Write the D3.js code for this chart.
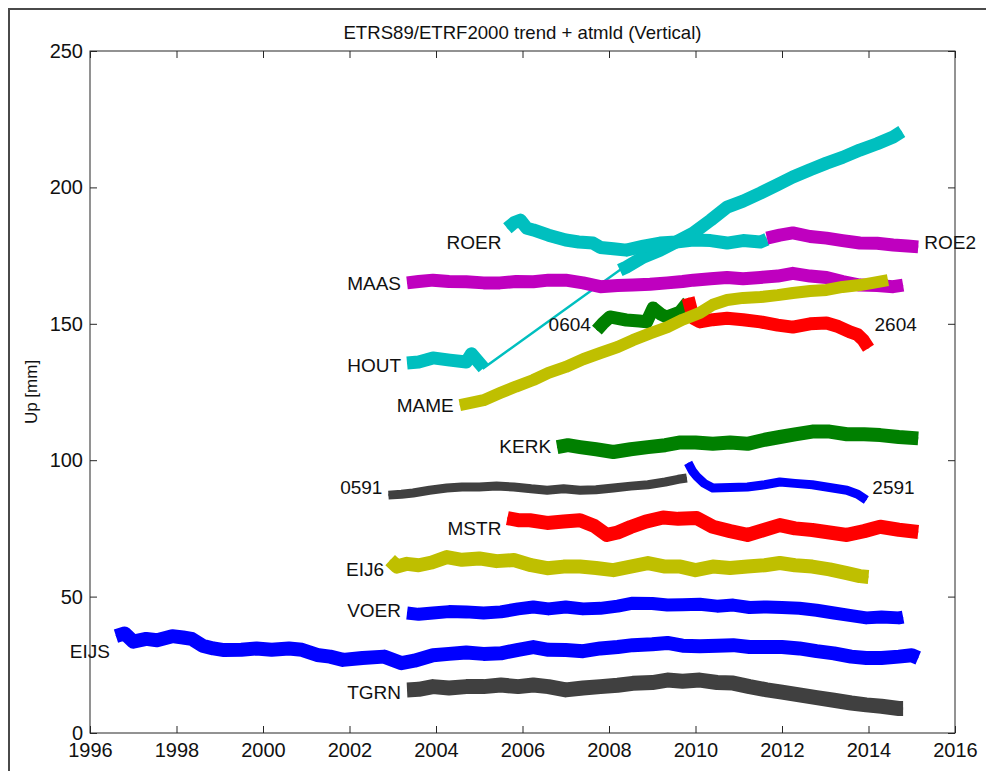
<!DOCTYPE html>
<html>
<head>
<meta charset="utf-8">
<script src="https://cdn.jsdelivr.net/npm/d3@7"></script>
<style>
  body { margin: 0; background: #fff; }
  svg text { font-family: "Liberation Sans", Arial, Helvetica, sans-serif; fill: #111; }
  .frame { fill: none; stroke: #262626; stroke-width: 1; }
  .axis line { stroke: #262626; }
  .axis path { display: none; }
</style>
</head>
<body>
<div id="chart"></div>
<script>

// tick values
var xTicks = [1996, 1998, 2000, 2002, 2004, 2006, 2008, 2010, 2012, 2014, 2016];
var yTicks = [0, 50, 100, 150, 200, 250];

// station series, [year, up (mm)]
var HOUT = [[2003.33,135.6],[2003.6,136],[2003.93,137.5],[2004.32,136.7],[2004.7,136],[2004.82,139],[2005.1,133.8],
  [2008.25,169.7],[2008.4,170.8],[2008.8,174.5],[2009.18,177],[2009.55,180],[2009.95,183.3],[2010.35,188],[2010.73,192.8],
  [2011.1,195],[2011.5,197.9],[2011.9,201],[2012.25,203.8],[2012.65,206.5],[2013.03,208.9],[2013.4,211],[2013.8,213.7],
  [2014.2,216],[2014.57,218.5],[2014.77,220.5]];
var ROER = [[2005.65,185],[2005.8,187],[2005.95,188],[2006.1,185],[2006.25,184.4],[2006.6,182.5],[2007.0,180.7],[2007.3,180],
  [2007.63,179.6],[2007.8,178],[2008.1,177.5],[2008.4,177],[2008.8,178.5],[2009.18,179.6],[2009.55,180],[2009.95,180.7],
  [2010.35,180.5],[2010.73,179.6],[2011.1,180.5],[2011.5,180],[2011.65,181]];
var MAAS = [[2003.33,165],[2003.6,165.5],[2003.93,166],[2004.3,165.5],[2004.7,165.4],[2005.1,165],[2005.48,165],[2005.85,165.5],
  [2006.25,165.4],[2006.6,166],[2007.0,166],[2007.4,165],[2007.8,163.6],[2008.2,164],[2008.55,164.2],[2008.95,164.5],
  [2009.35,165],[2009.7,165.5],[2009.95,166],[2010.35,166.5],[2010.73,167],[2011.1,166.5],[2011.5,167],[2011.9,167.5],
  [2012.25,168.5],[2012.65,167.5],[2013.03,167],[2013.4,165.5],[2013.8,164.2],[2014.2,164],[2014.57,163.6],[2014.8,164.2]];
var ROE2 = [[2011.65,181.4],[2011.95,182.5],[2012.25,183.3],[2012.65,182],[2013.03,181.4],[2013.4,180.5],[2013.8,179.6],
  [2014.2,179.5],[2014.57,178.9],[2014.9,178.5],[2015.15,178.2]];
var S0604 = [[2007.72,147.7],[2007.85,150],[2008.02,152.5],[2008.4,151.4],[2008.7,151],[2008.87,150.7],[2009.02,155.8],
  [2009.2,153.5],[2009.33,152.5],[2009.64,154.3],[2009.83,158]];
var S2604 = [[2009.83,159.5],[2009.95,152],[2010.1,150.7],[2010.4,151.5],[2010.73,152],[2011.1,151.5],[2011.5,150.7],
  [2011.9,149.5],[2012.25,148.8],[2012.65,150],[2013.03,150.3],[2013.3,149],[2013.57,147],[2013.75,146],[2013.88,144],[2014.0,141]];
var MAME = [[2004.55,120.2],[2004.8,121],[2005.1,122],[2005.48,124.6],[2005.85,127],[2006.25,129.4],[2006.6,132],[2007.0,134.2],
  [2007.4,137],[2007.8,139.3],[2008.2,141.5],[2008.55,144],[2008.95,146.5],[2009.35,148.8],[2009.7,151.5],[2010.1,154],
  [2010.4,157],[2010.73,158.7],[2011.1,159.5],[2011.5,159.8],[2011.9,160.5],[2012.25,161.3],[2012.65,162],[2013.03,162.4],
  [2013.4,163.5],[2013.8,164.2],[2014.1,165],[2014.45,166]];
var KERK = [[2006.8,104.8],[2007.05,105.5],[2007.33,104.8],[2007.7,104],[2008.1,103],[2008.5,104],[2008.9,104.8],[2009.3,105.5],
  [2009.65,106.5],[2010.0,106.5],[2010.4,106],[2010.8,106.5],[2011.2,106],[2011.6,107.5],[2011.95,108.5],[2012.3,109.5],
  [2012.7,110.5],[2013.1,110.5],[2013.5,109.5],[2013.9,109.5],[2014.27,109.2],[2014.7,108.5],[2015.15,108]];
var S0591 = [[2002.9,87.2],[2003.2,87.5],[2003.47,88],[2003.85,89],[2004.25,89.8],[2004.6,90.2],[2005.0,90.2],[2005.4,90.5],
  [2005.8,90.2],[2006.2,89.5],[2006.57,89],[2006.95,89.5],[2007.33,89],[2007.7,89.2],[2008.1,89.8],[2008.5,90.5],[2008.9,91],
  [2009.3,92],[2009.6,93],[2009.8,93.5]];
var S2591 = [[2009.83,99],[2009.93,96],[2010.03,94],[2010.2,91.5],[2010.4,89.8],[2010.8,90],[2011.2,90.2],[2011.6,91],
  [2011.95,92],[2012.3,91.5],[2012.7,91],[2013.1,90],[2013.5,89],[2013.75,87.5],[2013.95,85.4]];
var MSTR = [[2005.65,78.8],[2005.9,78],[2006.17,78],[2006.57,77],[2006.95,77.5],[2007.33,78],[2007.65,76],[2007.95,72.6],
  [2008.2,73.5],[2008.5,75.5],[2008.85,77.5],[2009.25,79],[2009.6,78.5],[2010.03,78.8],[2010.4,75.6],[2010.8,74],[2011.2,72.6],
  [2011.6,74.5],[2011.95,76.2],[2012.3,75],[2012.7,74.4],[2013.1,73.5],[2013.5,72.6],[2013.9,74],[2014.27,75.6],[2014.7,74.5],
  [2015.15,73.7]];
var EIJ6 = [[2002.94,63.4],[2003.1,61],[2003.33,62],[2003.6,61.5],[2003.9,62.5],[2004.25,64.5],[2004.6,63.5],[2005.0,64],
  [2005.4,63],[2005.8,63.4],[2006.2,61.5],[2006.57,60.4],[2006.95,61],[2007.33,61],[2007.7,60.5],[2008.1,59.7],[2008.5,61],
  [2008.9,62.3],[2009.3,61],[2009.65,61],[2010.0,59.7],[2010.4,61],[2010.8,60.5],[2011.2,61],[2011.6,61.5],[2011.95,62.3],
  [2012.3,61.5],[2012.7,61],[2013.1,60],[2013.5,58.6],[2013.8,57.5],[2014.0,57.2]];
var VOER = [[2003.33,44],[2003.6,43.5],[2003.93,44],[2004.3,44.5],[2004.7,44.4],[2005.1,44],[2005.5,44.4],[2005.9,45.5],
  [2006.25,46.2],[2006.6,45.5],[2007.0,46.2],[2007.4,45.5],[2007.8,45.7],[2008.2,46.5],[2008.55,47.6],[2009.0,47.5],
  [2009.35,46.9],[2009.7,47],[2010.1,47.2],[2010.5,46.5],[2010.87,46.9],[2011.25,46],[2011.65,46.2],[2012.0,46],[2012.4,45.7],
  [2012.8,45],[2013.2,44],[2013.6,43],[2013.95,42.2],[2014.3,42.5],[2014.7,42.2],[2014.8,42.5]];
var EIJS = [[1996.6,35.5],[1996.8,36.5],[1997.0,33.5],[1997.3,34.5],[1997.55,34],[1997.9,35.5],[1998.15,35],[1998.35,34.5],
  [1998.6,32],[1998.85,31],[1999.1,30.4],[1999.5,30.5],[1999.85,31],[2000.2,30.5],[2000.6,31],[2000.9,30.5],[2001.25,28.6],
  [2001.55,28],[2001.85,26.8],[2002.3,27.5],[2002.8,28],[2003.2,25.6],[2003.5,26.5],[2003.93,28.5],[2004.3,29],[2004.7,29.5],
  [2005.1,29],[2005.5,29.2],[2005.9,30.5],[2006.25,31.5],[2006.6,30.5],[2007.0,30.4],[2007.4,30],[2007.8,31],[2008.2,31.5],
  [2008.55,32.2],[2009.0,32.5],[2009.35,33],[2009.7,32],[2010.1,31.8],[2010.5,32],[2010.87,32.2],[2011.25,31.5],[2011.65,31.5],
  [2012.0,31.5],[2012.4,31],[2012.8,30],[2013.2,29.2],[2013.6,28],[2013.95,27.5],[2014.3,27.5],[2014.7,28],[2015.0,28.5],
  [2015.15,27.5]];
var TGRN = [[2003.33,15.8],[2003.6,16],[2003.93,17],[2004.3,16.5],[2004.7,17],[2005.1,17],[2005.5,17.6],[2005.9,17],
  [2006.25,17.6],[2006.6,17],[2007.0,15.8],[2007.4,16.5],[2007.8,17],[2008.2,17.5],[2008.55,18.2],[2009.0,18.5],[2009.35,19.4],
  [2009.7,19],[2010.1,19.4],[2010.5,18.5],[2010.87,18.3],[2011.25,17],[2011.65,15.8],[2012.0,15],[2012.4,14],[2012.8,13],
  [2013.2,12],[2013.6,11],[2013.95,10.3],[2014.3,9.8],[2014.7,9],[2014.8,9]];

// station names and the level (mm) their label sits at
var labelNames = ["ROER", "MAAS", "0604", "HOUT", "MAME", "KERK", "0591", "MSTR", "EIJ6", "VOER", "EIJS", "TGRN", "ROE2", "2604", "2591"];
var labelUp    = [180, 165, 150, 135, 120, 105, 90, 75, 60, 45, 30, 15, 180, 150, 90];

window.onload = function(){
  makeChart()
};

function makeChart(){
  var outerWidth = 986,
      outerHeight = 771,
      margin = {top: 51, right: 31, bottom: 38, left: 90},
      width = outerWidth - margin.left - margin.right,
      height = outerHeight - margin.top - margin.bottom;

  var cyan = "#00bfbf", magenta = "#bf00bf", olive = "#bfbf00", green = "#008000",
      red = "#ff0000", blue = "#0000ff", grey = "#404040";

  // drawing order, later ones end up on top
  var series = [
    {data: HOUT, color: cyan, w: 13, label: "HOUT", side: "start"},
    {data: ROER, color: cyan, w: 13, label: "ROER", side: "start"},
    {data: MAAS, color: magenta, w: 13, label: "MAAS", side: "start"},
    {data: ROE2, color: magenta, w: 13, label: "ROE2", side: "end"},
    {data: S0604, color: green, w: 13, label: "0604", side: "start"},
    {data: S2604, color: red, w: 13, label: "2604", side: "end"},
    {data: MAME, color: olive, w: 12, label: "MAME", side: "start"},
    {data: KERK, color: green, w: 14, label: "KERK", side: "start"},
    {data: S0591, color: grey, w: 9, label: "0591", side: "start"},
    {data: S2591, color: blue, w: 9, label: "2591", side: "end"},
    {data: MSTR, color: red, w: 14, label: "MSTR", side: "start"},
    {data: EIJ6, color: olive, w: 14, label: "EIJ6", side: "start"},
    {data: VOER, color: blue, w: 13, label: "VOER", side: "start"},
    {data: EIJS, color: blue, w: 14, label: "EIJS", side: "start"},
    {data: TGRN, color: grey, w: 15, label: "TGRN", side: "start"}
  ];

  var x = d3.scaleLinear()
      .domain([1996, 2016])
      .range([0, width]);

  var y = d3.scaleLinear()
      .domain([0, 250])
      .range([height, 0]);

  var svg = d3.select("#chart").append("svg")
      .attr("width", outerWidth)
      .attr("height", outerHeight);

  // figure border (only left and top show in the crop)
  svg.append("path")
      .attr("d", "M9," + outerHeight + "V9H" + outerWidth)
      .attr("fill", "none")
      .attr("stroke", "#4a4a4a")
      .attr("stroke-width", 2);

  svg.append("text")
      .attr("x", margin.left + width / 2)
      .attr("y", 39)
      .attr("text-anchor", "middle")
      .style("font-size", "18.6px")
      .text("ETRS89/ETRF2000 trend + atmld (Vertical)");

  svg.append("text")
      .attr("transform", "translate(37," + (margin.top + height / 2) + ") rotate(-90)")
      .attr("text-anchor", "middle")
      .style("font-size", "17px")
      .text("Up [mm]");

  var g = svg.append("g")
      .attr("transform", "translate(" + margin.left + "," + margin.top + ")");

  var line = d3.line()
      .x(function(d){ return x(d[0]); })
      .y(function(d){ return y(d[1]); });

  // split a record where it has a long data gap, the gap is only a thin line
  function pieces(data){
    var out = [], cur = [data[0]];
    for (var i = 1; i < data.length; i++){
      if (data[i][0] - data[i-1][0] > 1){ out.push(cur); cur = []; }
      cur.push(data[i]);
    }
    out.push(cur);
    return out;
  }

  series.forEach(function(s){
    var sg = g.append("g");
    sg.append("path")
        .attr("d", line(s.data))
        .attr("fill", "none")
        .attr("stroke", s.color)
        .attr("stroke-width", 2.5);
    pieces(s.data).forEach(function(p){
      sg.append("path")
          .attr("d", line(p))
          .attr("fill", "none")
          .attr("stroke", s.color)
          .attr("stroke-width", s.w)
          .attr("stroke-linejoin", "round");
    });
  });

  // station labels
  series.forEach(function(s){
    var i = labelNames.indexOf(s.label);
    var first = s.data[0], last = s.data[s.data.length - 1];
    g.append("text")
        .attr("x", s.side == "start" ? x(first[0]) - 6 : x(last[0]) + 6)
        .attr("y", y(labelUp[i]))
        .attr("dy", "0.36em")
        .attr("text-anchor", s.side == "start" ? "end" : "start")
        .style("font-size", "19px")
        .text(s.label);
  });

  // axes with inward ticks, MATLAB style box
  g.append("rect")
      .attr("class", "frame")
      .attr("width", width)
      .attr("height", height);

  var xAxis = g.append("g")
      .attr("class", "x axis")
      .attr("transform", "translate(0," + height + ")")
      .call(d3.axisBottom(x).tickValues(xTicks).tickFormat(d3.format("d"))
        .tickSizeInner(-7).tickSizeOuter(0).tickPadding(10));
  xAxis.selectAll("text").style("font-size", "20px").attr("fill", "#111");

  g.append("g")
      .attr("class", "axis")
      .call(d3.axisTop(x).tickValues(xTicks).tickSizeInner(-7).tickSizeOuter(0).tickFormat(""));

  var yAxis = g.append("g")
      .attr("class", "y axis")
      .call(d3.axisLeft(y).tickValues(yTicks).tickSizeInner(-7).tickSizeOuter(0).tickPadding(7));
  yAxis.selectAll("text").style("font-size", "20px").attr("fill", "#111");

  g.append("g")
      .attr("class", "axis")
      .attr("transform", "translate(" + width + ",0)")
      .call(d3.axisRight(y).tickValues(yTicks).tickSizeInner(-7).tickSizeOuter(0).tickFormat(""));
};
</script>
</body>
</html>
